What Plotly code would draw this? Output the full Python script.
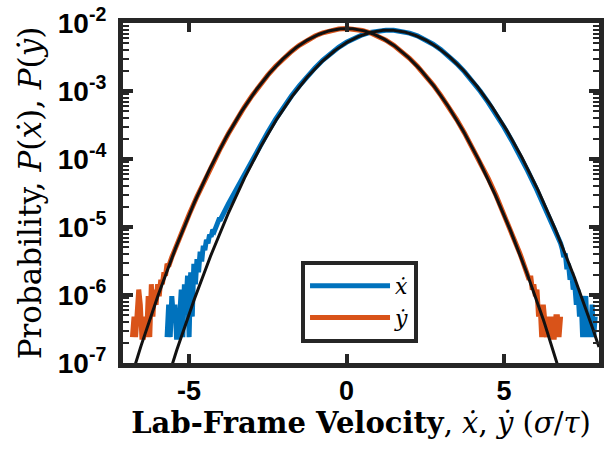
import numpy as np
import plotly.graph_objects as go

# ---------------------------------------------------------------------------
# Velocity distributions (probability per bin)
# ---------------------------------------------------------------------------
COUNT = 2.4e-7          # probability carried by a single sample in one bin

# central part of the distributions (well-sampled bins)
ydot_mid_x = [-5.5, -5.25, -5.0, -4.75, -4.5, -4.25, -4.0, -3.75, -3.5, -3.25, -3.0,
              -2.75, -2.5, -2.25, -2.0, -1.75, -1.5, -1.25, -1.0, -0.75, -0.5, -0.25,
              0.0, 0.25, 0.5, 0.75, 1.0, 1.25, 1.5, 1.75, 2.0, 2.25, 2.5, 2.75, 3.0,
              3.25, 3.5, 3.75, 4.0, 4.25, 4.5, 4.75, 5.0, 5.25, 5.5]
ydot_mid_p = [4.10e-6, 8.10e-6, 1.53e-5, 2.80e-5, 5.00e-5, 8.60e-5, 1.45e-4, 2.37e-4,
              3.77e-4, 5.77e-4, 8.55e-4, 1.23e-3, 1.71e-3, 2.31e-3, 3.02e-3, 3.82e-3,
              4.69e-3, 5.58e-3, 6.43e-3, 7.18e-3, 7.78e-3, 8.15e-3, 8.28e-3, 8.15e-3,
              7.78e-3, 7.18e-3, 6.43e-3, 5.58e-3, 4.69e-3, 3.82e-3, 3.02e-3, 2.31e-3,
              1.71e-3, 1.23e-3, 8.55e-4, 5.80e-4, 3.80e-4, 2.40e-4, 1.48e-4, 8.90e-5,
              5.20e-5, 2.90e-5, 1.57e-5, 8.20e-6, 4.15e-6]

xdot_mid_x = [-4.0, -3.75, -3.5, -3.25, -3.0, -2.75, -2.5, -2.25, -2.0, -1.75, -1.5,
              -1.25, -1.0, -0.75, -0.5, -0.25, 0.0, 0.25, 0.5, 0.75, 1.0, 1.25, 1.5,
              1.75, 2.0, 2.25, 2.5, 2.75, 3.0, 3.25, 3.5, 3.75, 4.0, 4.25, 4.5, 4.75,
              5.0, 5.25, 5.5, 5.75, 6.0, 6.25, 6.5, 6.75]
xdot_mid_p = [1.30e-5, 2.20e-5, 3.60e-5, 6.00e-5, 9.70e-5, 1.57e-4, 2.48e-4, 3.86e-4,
              5.80e-4, 8.45e-4, 1.19e-3, 1.64e-3, 2.19e-3, 2.85e-3, 3.58e-3, 4.38e-3,
              5.20e-3, 5.99e-3, 6.70e-3, 7.28e-3, 7.67e-3, 7.85e-3, 7.82e-3, 7.57e-3,
              7.10e-3, 6.46e-3, 5.70e-3, 4.88e-3, 4.05e-3, 3.25e-3, 2.53e-3, 1.91e-3,
              1.39e-3, 9.90e-4, 6.80e-4, 4.55e-4, 2.96e-4, 1.86e-4, 1.14e-4, 6.75e-5,
              3.90e-5, 2.20e-5, 1.20e-5, 6.70e-6]

# sparsely populated tails, given as sample counts per bin (bin width 0.05)
ydot_left_x0, ydot_left_counts = -6.80, [1, 2, 1, 2, 5, 3, 1, 1, 2, 1, 4, 1, 6, 2, 5, 3,
                                         6, 4, 7, 6, 9, 8, 12, 11, 14, 15]
ydot_right_x0, ydot_right_counts = 5.55, [15, 13, 12, 10, 9, 7, 8, 5, 6, 4, 5, 2, 3, 1,
                                          3, 2, 1, 2, 1, 2, 1, 1, 2, 2, 1, 2]
xdot_left_x0, xdot_left_counts = -5.70, [1, 3, 1, 4, 2, 3, 1, 1, 2, 5, 1, 6, 3, 8, 1, 9,
                                         2, 12, 6, 14, 9, 18, 13, 22, 19, 27, 24, 32,
                                         30, 38, 36, 44, 47, 54]
xdot_right_x0, xdot_right_counts = 6.80, [24, 20, 15, 17, 10, 12, 7, 9, 5, 6, 3, 5, 2, 4,
                                          1, 3, 4, 1, 2, 1, 3, 1, 2]
BIN = 0.05

# Gaussian fits: (mean, standard deviation, peak probability)
xdot_fit = (1.33, 1.444, 7.85e-3)
ydot_fit = (0.0, 1.408, 8.28e-3)

X_RANGE = [-7.1, 8.02]
Y_DECADES = [-7, -6, -5, -4, -3, -2]
X_TICKS = [-5, 0, 5]


def tail(x0, counts):
    xs = [round(x0 + i * BIN, 2) for i in range(len(counts))]
    return xs, [c * COUNT for c in counts]


def assemble(left, mid_x, mid_p, right):
    lx, lp = tail(*left)
    rx, rp = tail(*right)
    return lx + mid_x + rx, lp + mid_p + rp


xdot_x, xdot_p = assemble((xdot_left_x0, xdot_left_counts), xdot_mid_x, xdot_mid_p,
                          (xdot_right_x0, xdot_right_counts))
ydot_x, ydot_p = assemble((ydot_left_x0, ydot_left_counts), ydot_mid_x, ydot_mid_p,
                          (ydot_right_x0, ydot_right_counts))

fit_x = np.linspace(X_RANGE[0], X_RANGE[1], 600)


def gauss(params):
    mu, sig, peak = params
    return peak * np.exp(-(fit_x - mu) ** 2 / (2 * sig ** 2))


BLUE = "#0072BD"
RED = "#D95319"
AXC = "#262626"
SERIF = "DejaVu Serif"
SANS = "Liberation Sans"

fig = go.Figure()
fig.add_trace(go.Scatter(x=xdot_x, y=xdot_p, mode="lines", name="<i>ẋ</i>",
                         line=dict(color=BLUE, width=5)))
fig.add_trace(go.Scatter(x=ydot_x, y=ydot_p, mode="lines", name="<i>ẏ</i>",
                         line=dict(color=RED, width=5)))
for params in (xdot_fit, ydot_fit):
    fig.add_trace(go.Scatter(x=fit_x, y=gauss(params), mode="lines", showlegend=False,
                             line=dict(color="#111111", width=3)))

minor_vals = [m * 10.0 ** d for d in Y_DECADES[:-1] for m in range(2, 10)]

fig.update_layout(
    width=607, height=453,
    margin=dict(l=123, r=3, t=16, b=90),
    paper_bgcolor="white", plot_bgcolor="white",
    showlegend=True,
    legend=dict(x=0.374, y=0.30, xanchor="left", yanchor="top",
                bgcolor="white", bordercolor=AXC, borderwidth=4,
                font=dict(family=SERIF, size=22, color="black"),
                itemwidth=80, tracegroupgap=0),
    xaxis=dict(
        range=X_RANGE, showgrid=False, zeroline=False,
        showline=True, linecolor=AXC, linewidth=5, mirror="allticks",
        ticks="inside", ticklen=9, tickwidth=4, tickcolor=AXC,
        tickmode="array", tickvals=X_TICKS,
        ticktext=[f"<b>{v}</b>" for v in X_TICKS],
        tickfont=dict(family=SANS, size=27, color="black"),
        title=dict(text="<b>Lab-Frame Velocity</b>, <i>ẋ</i>, <i>ẏ</i> (<i>σ</i>/<i>τ</i>)",
                   font=dict(family=SERIF, size=29, color="black"), standoff=4),
    ),
    yaxis=dict(
        type="log", range=[Y_DECADES[0], Y_DECADES[-1]], showgrid=False, zeroline=False,
        showline=True, linecolor=AXC, linewidth=5, mirror="allticks",
        ticks="inside", ticklen=10, tickwidth=4, tickcolor=AXC,
        tickmode="array", tickvals=[10.0 ** d for d in Y_DECADES],
        ticktext=[f"<b>10<sup>{d}</sup></b>" for d in Y_DECADES],
        tickfont=dict(family=SANS, size=28, color="black"),
        ticklabelstandoff=6, ticklabeloverflow="allow",
        minor=dict(tickmode="array", tickvals=minor_vals, ticks="inside",
                   ticklen=6, tickwidth=2, tickcolor=AXC, showgrid=False),
        title=dict(text="Probability, <i>P</i>(<i>ẋ</i>), <i>P</i>(<i>ẏ</i>)",
                   font=dict(family=SERIF, size=31, color="black"), standoff=8),
    ),
)

fig.write_html("out.html")
